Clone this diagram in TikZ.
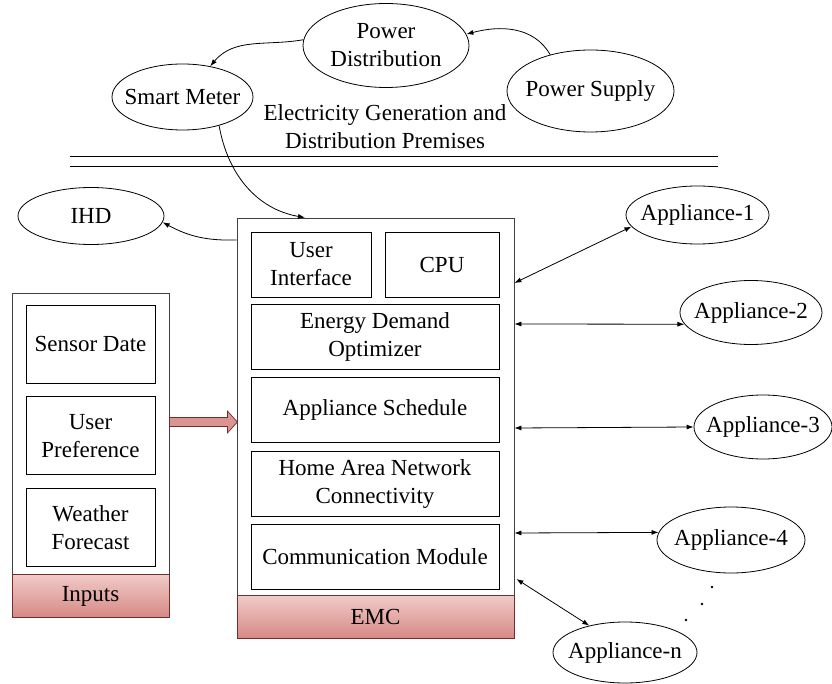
\documentclass[tikz,border=0pt]{standalone}
\usepackage{fontspec}
\setmainfont{Liberation Serif}
\usetikzlibrary{arrows.meta,positioning,shapes.geometric}

\definecolor{bandtop}{RGB}{240,202,200}
\definecolor{bandbot}{RGB}{214,136,132}
\definecolor{bandline}{RGB}{115,45,45}
\definecolor{arrowfill}{RGB}{218,148,146}

\tikzset{
  oval/.style={draw, ellipse, inner sep=-12pt, align=center},
  box/.style={draw, rectangle, inner sep=0pt, align=center},
  frame/.style={draw=black!75, rectangle, inner sep=0pt},
  band/.style={draw=bandline, rectangle, inner sep=0pt, top color=bandtop,
    bottom color=bandbot, minimum height=43pt},
  fatarrow/.style={draw=bandline, fill=arrowfill, line width=0.7pt}
}

\begin{document}
\begin{tikzpicture}[x=1pt, y=-1pt, line width=0.8pt,
    >={Latex[length=7pt,width=5pt]}, font=\rmfamily\fontsize{23}{28}\selectfont]
  \useasboundingbox (0,0) rectangle (832,684);

  % supply side
  \node[oval, minimum width=166pt, minimum height=84pt] (PD) at (386,45.5) {Power\\Distribution};
  \node[oval, minimum width=167pt, minimum height=82pt] (PS) at (590.5,91) {Power Supply};
  \node[oval, minimum width=141pt, minimum height=66pt] (SM) at (182.5,97) {Smart Meter};
  \node[align=center] (prem) at (385,127) {Electricity Generation and\\Distribution Premises};
  \draw (70,156) -- (718,156) (70,166) -- (718,166);
  \draw[->] (PS.138) to[out=120, in=15] (PD.8);
  \draw[->] (PD.176) to[out=190, in=50] (SM.48);

  % EMC
  \node[frame, minimum width=277pt, minimum height=377pt] (EMC) at (375.5,406.5) {};
  \node[band, minimum width=277pt, below=0pt of EMC] (EMCb) {EMC};
  \node[box, minimum width=120pt, minimum height=65pt] (UI) at (311,264.5) {User\\Interface};
  \node[box, minimum width=114pt, minimum height=65pt] (CPU) at (442,264.5) {CPU};
  \node[box, minimum width=248pt, minimum height=65pt] (EDO) at (375,337) {Energy Demand\\Optimizer};
  \node[box, minimum width=248pt, minimum height=65pt, below=7.5pt of EDO] (AS) {Appliance Schedule};
  \node[box, minimum width=248pt, minimum height=65pt, below=7.5pt of AS] (HAN) {Home Area Network\\Connectivity};
  \node[box, minimum width=248pt, minimum height=65pt, below=7.5pt of HAN] (CM) {Communication Module};

  \node[oval, minimum width=146pt, minimum height=57pt] (IHD) at (91,216) {IHD};
  \draw[->] (SM.-38) to[out=-80, in=170] ([xshift=-70.5pt]EMC.north);
  \draw[->] ([yshift=166.5pt]EMC.west) to[bend left=15] (IHD.355);

  % inputs
  \node[frame, minimum width=157pt, minimum height=281pt] (INP) at (90.5,433.5) {};
  \node[band, minimum width=157pt, below=0pt of INP] (INPb) {Inputs};
  \node[box, minimum width=129pt, minimum height=78pt] (SD) at (90.5,344) {Sensor Date};
  \node[box, minimum width=129pt, minimum height=78pt, below=13pt of SD] (UP) {User\\Preference};
  \node[box, minimum width=129pt, minimum height=78pt, below=13pt of UP] (WF) {Weather\\Forecast};
  \coordinate (fa) at ([yshift=11.5pt]INP.east);
  \draw[fatarrow] ([yshift=4.5pt]fa) -- ++(58,0) -- ++(0,-6.5) -- ++(10,11)
    -- ++(-10,11) -- ++(0,-6.5) -- ++(-58,0) -- cycle;

  % appliances
  \node[oval, minimum width=143pt, minimum height=58pt] (A1) at (697.5,215) {Appliance-1};
  \node[oval, minimum width=142pt, minimum height=64pt] (A2) at (751,312.5) {Appliance-2};
  \node[oval, minimum width=138pt, minimum height=64pt] (A3) at (763,427) {Appliance-3};
  \node[oval, minimum width=148pt, minimum height=66pt] (A4) at (731,540) {Appliance-4};
  \node[oval, minimum width=144pt, minimum height=61pt] (An) at (625,652.5) {Appliance-n};
  \foreach \s/\a/\t in {123.5/A1/190, 82.5/A2/190, -21.5/A3/180, -126.5/A4/174}
    \draw[<->] ([yshift=\s pt]EMC.east) -- (\a.\t);
  \draw[<->] ([xshift=2pt, yshift=-172.5pt]EMC.east) -- (An.143);
  \foreach \p in {(712,587), (702,604), (686,620)}
    \fill \p circle (1.3pt);
\end{tikzpicture}
\end{document}
